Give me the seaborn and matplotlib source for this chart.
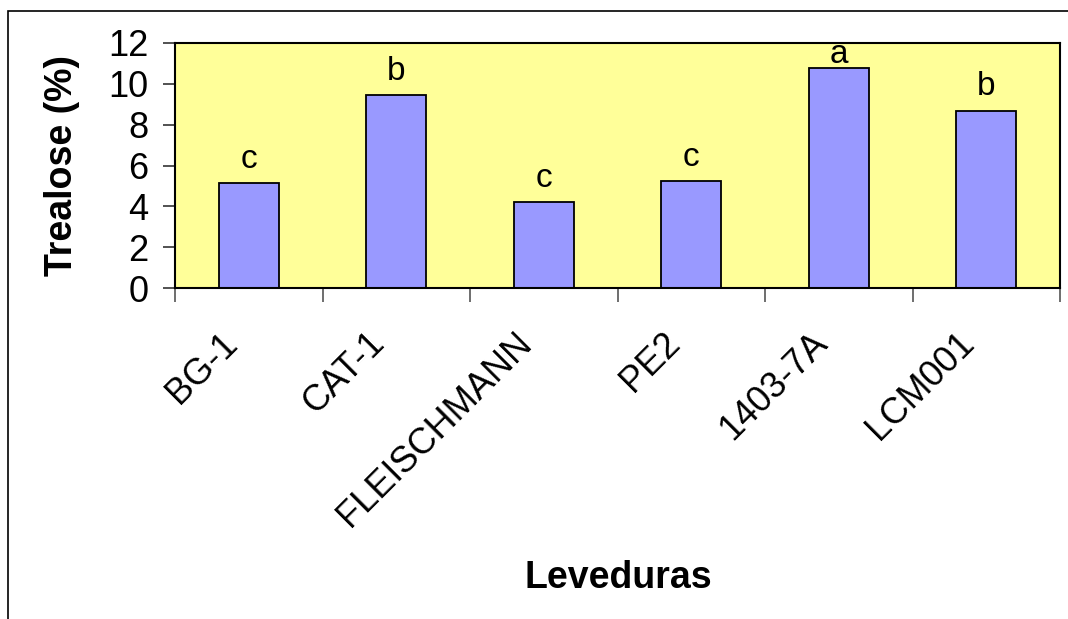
import matplotlib
matplotlib.use("Agg")
import matplotlib.pyplot as plt
import matplotlib.transforms as mtransforms
from matplotlib.patches import Rectangle
import seaborn as sns
import pandas as pd

# dados
leveduras = ["BG-1", "CAT-1", "FLEISCHMANN", "PE2", "1403-7A", "LCM001"]
trealose = [5.15, 9.43, 4.2, 5.24, 10.77, 8.68]
letras = ["c", "b", "c", "c", "a", "b"]
yticks = [0, 2, 4, 6, 8, 10, 12]

df = pd.DataFrame({"Leveduras": leveduras, "Trealose": trealose})

sns.set_style("white")
plt.rcParams["font.family"] = ["Liberation Sans", "DejaVu Sans"]
plt.rcParams["text.color"] = "black"
plt.rcParams["xtick.color"] = "black"
plt.rcParams["ytick.color"] = "black"

fig = plt.figure(figsize=(10.68, 6.19), dpi=100)
ax = fig.add_axes([175 / 1068, 1 - 288 / 619, (1060 - 175) / 1068, (288 - 43) / 619])
ax.set_facecolor("#FFFF99")

sns.barplot(data=df, x="Leveduras", y="Trealose", color="#9999FF", saturation=1,
            width=0.41, edgecolor="black", linewidth=1.3, ax=ax)

ax.set_xlim(-0.5, len(leveduras) - 0.5)
ax.set_ylim(0, 12)
ax.set_yticks(yticks)
ax.set_yticklabels([str(t) for t in yticks], fontsize=26)

# ticks do eixo x nas divisas das categorias (estilo Excel)
ax.set_xticks([i - 0.5 for i in range(len(leveduras) + 1)], minor=True)
ax.tick_params(axis="x", which="minor", direction="out", length=10, width=1.2,
               color="#555555", bottom=True)
ax.tick_params(axis="x", which="major", length=0, pad=36)
ax.tick_params(axis="y", direction="out", length=9, width=1.2, color="#333333",
               left=True, pad=10)

shift = mtransforms.ScaledTranslation(-17 / 100, 0, fig.dpi_scale_trans)
ax.set_xticks(range(len(leveduras)))
ax.set_xticklabels(leveduras, fontsize=26, rotation=45, ha="right", va="center",
                   rotation_mode="anchor")
for lab in ax.get_xticklabels():
    lab.set_transform(lab.get_transform() + shift)

for sp in ax.spines.values():
    sp.set_visible(True)
    sp.set_color("black")
    sp.set_linewidth(1.5)

# letras de significancia
for i, (v, l) in enumerate(zip(trealose, letras)):
    ax.text(i, min(v + 0.75, 11.0), l, ha="center", va="baseline", fontsize=24)

ax.set_xlabel("")
ax.set_ylabel("")
fig.text(62 / 1068, 1 - 166 / 619, "Trealose (%)", rotation=90, ha="center",
         va="center", fontsize=27, fontweight="bold")
fig.text(618 / 1068, 1 - 578 / 619, "Leveduras", ha="center", va="center",
         fontsize=27, fontweight="bold")

# borda da area do grafico
fig.add_artist(Rectangle((8 / 1068, -0.1), 1.2, 1 - 11 / 619 + 0.1,
                         transform=fig.transFigure, fill=False,
                         edgecolor="black", linewidth=1.2))

fig.savefig("out.png", dpi=100)
